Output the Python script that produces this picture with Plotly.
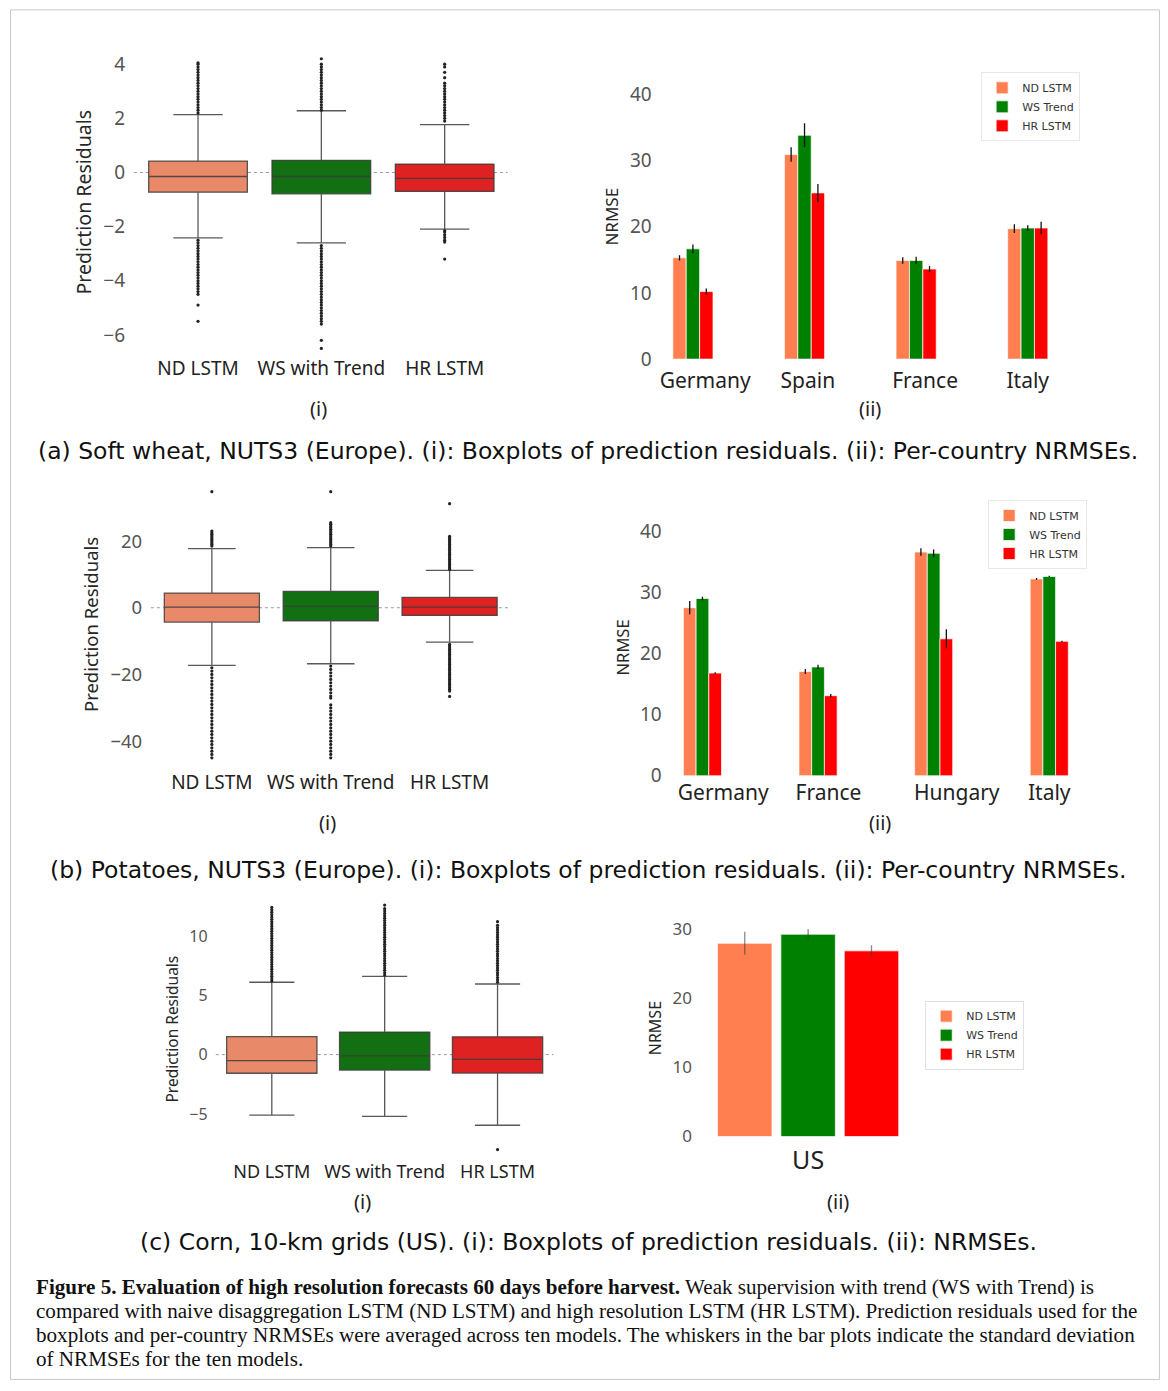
import plotly.graph_objects as go

# page body has an 8px margin; the photographed page is slightly squeezed vertically,
# so vertical placement is pre-compensated (KY, CY)
OFF = 8
FW, FH = 1152, 1385
KY, CY = 0.9892, 2.7


def fx(p):
    return (p - OFF) / FW


def fy(p):
    page = (p - CY) / KY
    return 1 - (page - OFF) / FH


# ---------------- data ----------------
models = ["ND LSTM", "WS with Trend", "HR LSTM"]
legend_names = ["ND LSTM", "WS Trend", "HR LSTM"]

# (a) Soft wheat boxplot statistics
a_q1 = [-0.73, -0.79, -0.70]
a_med = [-0.15, -0.15, -0.22]
a_q3 = [0.42, 0.45, 0.31]
a_lo = [-2.42, -2.60, -2.09]
a_hi = [2.14, 2.28, 1.77]
a_out_nd = [2.2, 2.3, 2.4, 2.5, 2.6, 2.7, 2.8, 2.9, 3.0, 3.1, 3.2, 3.3, 3.4, 3.5, 3.6, 3.7, 3.8, 3.9, 4.0, 4.05,
            -2.5, -2.6, -2.7, -2.8, -2.9, -3.0, -3.1, -3.2, -3.3, -3.4, -3.5, -3.6, -3.7, -3.8, -3.9, -4.0,
            -4.1, -4.2, -4.3, -4.4, -4.5, -4.9, -5.5]
a_out_ws = [2.3, 2.4, 2.5, 2.6, 2.7, 2.8, 2.9, 3.0, 3.1, 3.2, 3.3, 3.4, 3.5, 3.6, 3.7, 3.8, 3.9, 4.0, 4.2,
            -2.7, -2.8, -2.9, -3.0, -3.1, -3.2, -3.3, -3.4, -3.5, -3.6, -3.7, -3.8, -3.9, -4.0, -4.1, -4.2,
            -4.3, -4.4, -4.5, -4.6, -4.7, -4.8, -4.9, -5.0, -5.1, -5.2, -5.3, -5.4, -5.5, -5.6, -6.2, -6.5]
a_out_hr = [1.9, 2.0, 2.1, 2.2, 2.3, 2.4, 2.5, 2.6, 2.7, 2.8, 2.9, 3.0, 3.1, 3.2, 3.3, 3.5, 3.7, 3.9, 4.0,
            -2.15, -2.2, -2.3, -2.4, -2.5, -2.57, -3.2]

# (b) Potatoes boxplot statistics
b_q1 = [-4.3, -3.9, -2.3]
b_med = [0.2, 0.4, 0.2]
b_q3 = [4.4, 4.9, 3.1]
b_lo = [-17.3, -16.8, -10.3]
b_hi = [17.7, 18.0, 11.2]
b_out_nd = [18.5, 19, 19.5, 20, 20.5, 21, 21.5, 22, 22.5, 23, 34.8,
            -18, -19, -20, -21, -22, -23, -24, -25, -26, -27, -28, -29, -30, -31, -32, -33, -34, -35,
            -36, -37, -38, -39, -40, -41, -42, -43, -44, -45]
b_out_ws = [18.5, 19, 19.5, 20, 20.5, 21, 21.5, 22, 22.5, 23, 23.5, 24, 24.5, 25, 25.5, 34.8,
            -17.5, -18.5, -19.5, -20.5, -21.5, -22.5, -23.5, -24.5, -25.5, -26.5, -27.1,
            -29.1, -30, -31, -32, -33, -34, -35, -36, -37, -38, -39, -40, -41, -42, -43, -44, -45]
b_out_hr = [11.5, 12, 12.5, 13, 13.5, 14, 14.5, 15, 15.5, 16, 16.5, 17, 17.5, 18, 18.5, 19, 19.5, 20,
            20.5, 21, 21.4, 31.2,
            -11, -11.5, -12, -12.5, -13, -13.5, -14, -14.5, -15, -15.5, -16, -16.5, -17, -17.5, -18,
            -18.5, -19, -19.5, -20, -20.5, -21, -21.5, -22, -22.5, -23, -23.5, -24, -24.5, -25, -26.6]

# (c) Corn boxplot statistics
c_q1 = [-1.57, -1.3, -1.55]
c_med = [-0.5, -0.1, -0.4]
c_q3 = [1.51, 1.9, 1.5]
c_lo = [-5.1, -5.2, -5.95]
c_hi = [6.1, 6.6, 5.95]
c_out_nd = [6.2, 6.4, 6.6, 6.8, 7.0, 7.2, 7.4, 7.6, 7.8, 8.0, 8.2, 8.4, 8.6, 8.8, 9.0, 9.2, 9.4, 9.6,
            9.8, 10.0, 10.2, 10.4, 10.6, 10.8, 11.0, 11.2, 11.4, 11.6, 11.8, 12.0, 12.2, 12.4]
c_out_ws = [6.7, 6.9, 7.1, 7.3, 7.5, 7.7, 7.9, 8.1, 8.3, 8.5, 8.7, 8.9, 9.1, 9.3, 9.5, 9.7, 9.9, 10.1,
            10.3, 10.5, 10.7, 10.9, 11.1, 11.3, 11.5, 11.7, 11.9, 12.1, 12.3, 12.6]
c_out_hr = [6.1, 6.3, 6.5, 6.7, 6.9, 7.1, 7.3, 7.5, 7.7, 7.9, 8.1, 8.3, 8.5, 8.7, 8.9, 9.1, 9.3, 9.5,
            9.7, 9.9, 10.1, 10.3, 10.5, 10.7, 10.9, 11.2, -8.0]

# (a) Soft wheat NRMSE per country
a_countries = ["Germany", "Spain", "France", "Italy"]
a_nd = [15.3, 30.9, 14.9, 19.7]
a_nd_sd = [0.4, 1.1, 0.5, 0.65]
a_ws = [16.65, 33.8, 14.9, 19.8]
a_ws_sd = [0.65, 1.8, 0.55, 0.4]
a_hr = [10.2, 25.1, 13.6, 19.8]
a_hr_sd = [0.45, 1.35, 0.45, 0.95]

# (b) Potatoes NRMSE per country
b_countries = ["Germany", "France", "Hungary", "Italy"]
b_nd = [27.5, 17.05, 36.6, 32.2]
b_nd_sd = [1.07, 0.4, 0.63, 0.15]
b_ws = [29.0, 17.8, 36.4, 32.6]
b_ws_sd = [0.27, 0.35, 0.6, 0.1]
b_hr = [16.8, 13.1, 22.4, 22.0]
b_hr_sd = [0.15, 0.27, 1.55, 0.1]

# (c) Corn NRMSE
c_countries = ["US"]
c_nd = [27.9]
c_nd_sd = [1.65]
c_ws = [29.2]
c_ws_sd = [0.75]
c_hr = [26.8]
c_hr_sd = [0.8]

# ---------------- styling ----------------
box_colors = ["#E8896A", "#127012", "#DE2121"]
bar_colors = ["#FF7F50", "#008000", "#FF0000"]
FONT = "Noto Sans"
# horizontal shift of each country label relative to its bar group (axis units)
a_label_shift = [0.11, 0.03, 0.08, 0.0]
b_label_shift = [0.18, 0.09, 0.2, 0.0]

fig = go.Figure()


def add_boxes(xa, ya, q1, med, q3, lo, hi, outs):
    for i in range(3):
        fig.add_trace(go.Box(
            x=[models[i]], q1=[q1[i]], median=[med[i]], q3=[q3[i]],
            lowerfence=[lo[i]], upperfence=[hi[i]],
            width=0.8, whiskerwidth=0.5, boxpoints=False,
            fillcolor=box_colors[i], line=dict(color="rgba(60,60,60,0.85)", width=1.3),
            xaxis=xa, yaxis=ya, showlegend=False, hoverinfo="skip"))
        fig.add_trace(go.Scatter(
            x=[models[i]] * len(outs[i]), y=outs[i], mode="markers",
            marker=dict(size=3.2, color="#222"), xaxis=xa, yaxis=ya,
            showlegend=False, hoverinfo="skip"))


def add_bars(xa, ya, xs, vals, sds, offsets, width, legend, err_color):
    for k in range(3):
        fig.add_trace(go.Bar(
            x=xs, y=vals[k], name=legend_names[k], offset=offsets[k], width=width,
            marker=dict(color=bar_colors[k], line=dict(color="rgba(255,255,255,0.7)", width=1)),
            error_y=dict(type="data", array=sds[k], color=err_color, thickness=1.3, width=0),
            xaxis=xa, yaxis=ya, legend=legend, showlegend=True))


add_boxes("x", "y", a_q1, a_med, a_q3, a_lo, a_hi, [a_out_nd, a_out_ws, a_out_hr])
add_boxes("x3", "y3", b_q1, b_med, b_q3, b_lo, b_hi, [b_out_nd, b_out_ws, b_out_hr])
add_boxes("x5", "y5", c_q1, c_med, c_q3, c_lo, c_hi, [c_out_nd, c_out_ws, c_out_hr])

a_idx = list(range(len(a_countries)))
b_idx = list(range(len(b_countries)))
add_bars("x2", "y2", a_idx, [a_nd, a_ws, a_hr], [a_nd_sd, a_ws_sd, a_hr_sd],
         [-0.18, -0.06, 0.06], 0.12, "legend", "#111")
add_bars("x4", "y4", b_idx, [b_nd, b_ws, b_hr], [b_nd_sd, b_ws_sd, b_hr_sd],
         [-0.165, -0.055, 0.055], 0.11, "legend2", "#111")
add_bars("x6", "y6", c_countries, [c_nd, c_ws, c_hr], [c_nd_sd, c_ws_sd, c_hr_sd],
         [-1.43, -0.43, 0.57], 0.86, "legend3", "rgba(60,60,60,0.6)")


def xax(px0, px1, rng, size, standoff):
    return dict(domain=[fx(px0), fx(px1)], range=rng, showgrid=False, zeroline=False,
                showline=False, ticks="", ticklabelstandoff=standoff,
                tickfont=dict(family=FONT, size=size, color="#222"), fixedrange=True)


def yax(py_top, py_bot, rng, tickvals, size, title, tsize, standoff, anchor):
    return dict(domain=[fy(py_bot), fy(py_top)], range=rng, tickvals=tickvals,
                showgrid=False, zeroline=False, showline=False,
                ticks="outside", ticklen=4, tickcolor="rgba(0,0,0,0)",
                tickfont=dict(family=FONT, size=size, color="#555"),
                title=dict(text=title, font=dict(family=FONT, size=tsize, color="#262626"),
                           standoff=standoff),
                anchor=anchor, fixedrange=True)


leg_common = dict(xanchor="left", yanchor="top", bgcolor="white", borderwidth=1,
                  font=dict(family="DejaVu Sans", size=11, color="#333"), itemwidth=30)

layout = dict(
    width=FW, height=FH, margin=dict(l=0, r=0, t=0, b=0),
    paper_bgcolor="white", plot_bgcolor="white",
    font=dict(family=FONT),
    xaxis=dict(xax(133, 507, [-0.52, 2.51], 19, 4), anchor="y"),
    yaxis=yax(53, 351, [-6.6, 4.4], [-6, -4, -2, 0, 2, 4], 19, "Prediction Residuals", 19.5, 6, "x"),
    xaxis2=dict(xax(660, 1075, [-0.291, 3.424], 21, 7), anchor="y2",
                tickvals=[i + s for i, s in zip(a_idx, a_label_shift)], ticktext=a_countries),
    yaxis2=yax(74, 359, [0, 43], [0, 10, 20, 30, 40], 19, "NRMSE", 17, 6, "x2"),
    xaxis3=dict(xax(150, 508, [-0.513, 2.496], 19, 6), anchor="y3"),
    yaxis3=yax(486, 763, [-46.5, 36.5], [-40, -20, 0, 20], 18.5, "Prediction Residuals", 18.5, 6, "x3"),
    xaxis4=dict(xax(670, 1085, [-0.277, 3.31], 21, 2), anchor="y4",
                tickvals=[i + s for i, s in zip(b_idx, b_label_shift)], ticktext=b_countries),
    yaxis4=yax(519, 776, [0, 42], [0, 10, 20, 30, 40], 19, "NRMSE", 16.5, 6, "x4"),
    xaxis5=dict(xax(215, 553, [-0.496, 2.496], 18, 3), anchor="y5"),
    yaxis5=yax(903, 1156, [-8.5, 12.8], [-5, 0, 5, 10], 16, "Prediction Residuals", 15.5, 6, "x5"),
    xaxis6=dict(xax(700, 915, [-1.70, 1.69], 25, 6), anchor="y6"),
    yaxis6=yax(920, 1137, [0, 31.3], [0, 10, 20, 30], 17, "NRMSE", 16, 6, "x6"),
    legend=dict(leg_common, x=fx(981), y=fy(72), bordercolor="#e8e8e8"),
    legend2=dict(leg_common, x=fx(988), y=fy(500), bordercolor="#e8e8e8"),
    legend3=dict(leg_common, x=fx(925), y=fy(1001), bordercolor="#e0e0e0"),
    showlegend=True,
)
fig.update_layout(**layout)

# dashed zero lines in boxplots
for xa, ya in [("x", "y"), ("x3", "y3"), ("x5", "y5")]:
    fig.add_shape(type="line", xref=f"{xa} domain", yref=ya, x0=0, x1=1, y0=0, y1=0,
                  line=dict(color="#999", width=1, dash="dot"), layer="below")

# outer border
fig.add_shape(type="rect", xref="paper", yref="paper", x0=fx(9.5), x1=min(fx(1163), 1 - 0.6 / FW),
              y0=max(fy(1389), 0.6 / FH), y1=fy(9.5),
              line=dict(color="#c8c8c8", width=1), layer="below")

ann = []
for txt, x, y in [("(i)", 318, 408), ("(ii)", 870, 408), ("(i)", 327, 823), ("(ii)", 880, 823),
                  ("(i)", 362, 1202), ("(ii)", 838, 1202)]:
    ann.append(dict(text=txt, x=fx(x), y=fy(y), xref="paper", yref="paper", showarrow=False,
                    xanchor="center", yanchor="middle", font=dict(family=FONT, size=20, color="#222")))

captions = [
    ("(a) Soft wheat, NUTS3 (Europe). (i): Boxplots of prediction residuals. (ii): Per-country NRMSEs.", 451),
    ("(b) Potatoes, NUTS3 (Europe). (i): Boxplots of prediction residuals. (ii): Per-country NRMSEs.", 870),
    ("(c) Corn, 10-km grids (US). (i): Boxplots of prediction residuals. (ii): NRMSEs.", 1243),
]
for txt, y in captions:
    ann.append(dict(text=txt, x=fx(588), y=fy(y), xref="paper", yref="paper", showarrow=False,
                    xanchor="center", yanchor="middle",
                    font=dict(family="DejaVu Sans", size=23.5, color="#111")))

fig_caption = [
    "<b>Figure 5. Evaluation of high resolution forecasts 60 days before harvest.</b> Weak supervision with trend (WS with Trend) is",
    "compared with naive disaggregation LSTM (ND LSTM) and high resolution LSTM (HR LSTM). Prediction residuals used for the",
    "boxplots and per-country NRMSEs were averaged across ten models. The whiskers in the bar plots indicate the standard deviation",
    "of NRMSEs for the ten models.",
]
for i, line in enumerate(fig_caption):
    ann.append(dict(text=line, x=fx(33), y=fy(1288 + 24 * i), xref="paper", yref="paper",
                    showarrow=False, xanchor="left", yanchor="middle", align="left",
                    font=dict(family="Liberation Serif", size=21.1, color="#111")))

fig.update_layout(annotations=ann)
fig.write_html("out.html")
